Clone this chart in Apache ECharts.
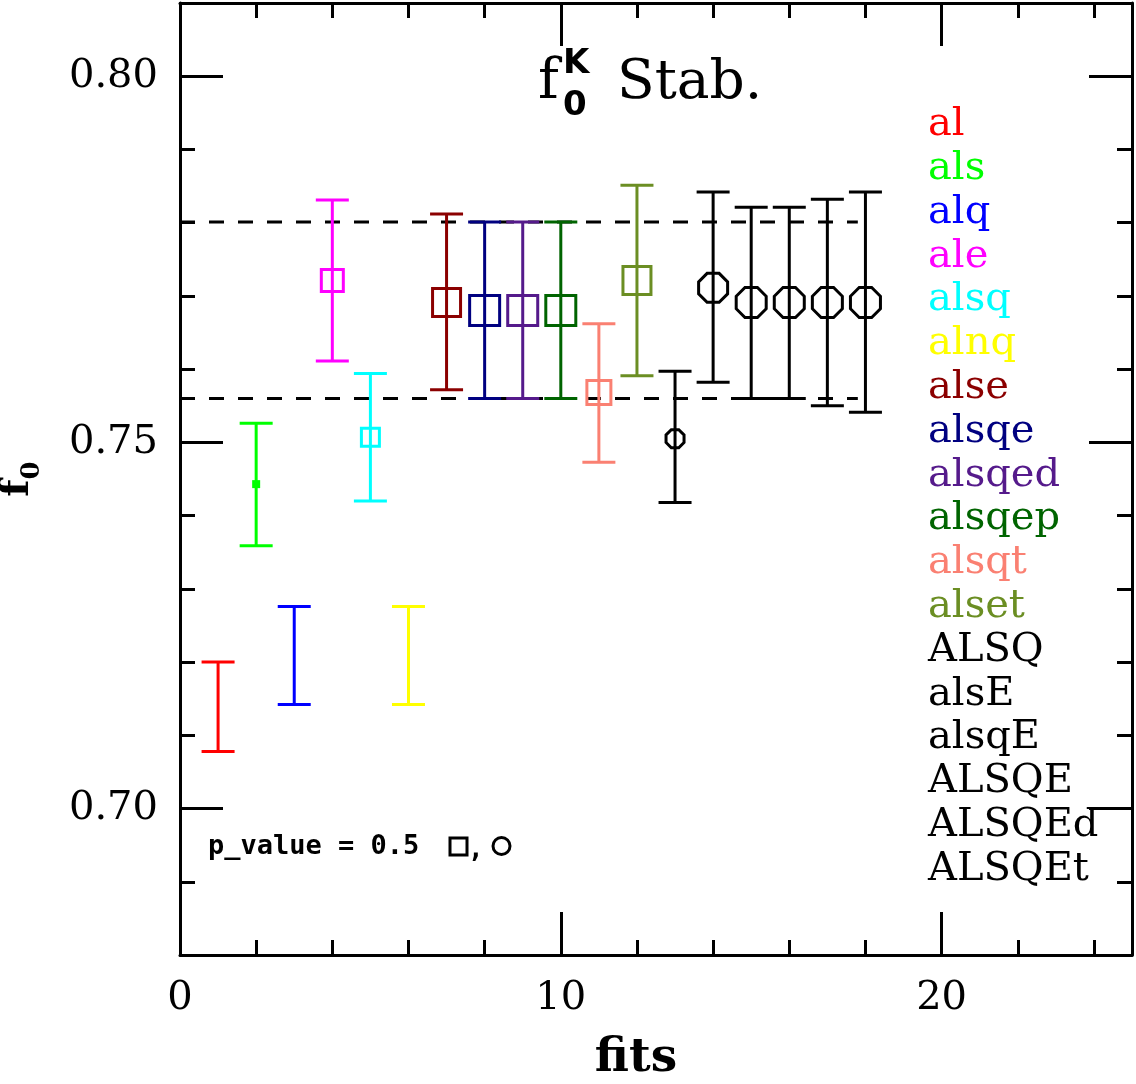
<!DOCTYPE html>
<html>
<head>
<meta charset="utf-8">
<script src="https://cdn.jsdelivr.net/npm/echarts@6/dist/echarts.min.js"></script>
<style>html,body{margin:0;padding:0;background:#fff}#c{width:1136px;height:1084px}</style>
</head>
<body>
<div id="c"></div>
<script>
// ---- data ----
const fitIndex = [1, 2, 3, 4, 5, 6, 7, 8, 9, 10, 11, 12, 13, 14, 15, 16, 17, 18];
const fitNames = ['al', 'als', 'alq', 'ale', 'alsq', 'alnq', 'alse', 'alsqe', 'alsqed', 'alsqep',
  'alsqt', 'alset', 'ALSQ', 'alsE', 'alsqE', 'ALSQE', 'ALSQEd', 'ALSQEt'];
const f0Central = [0.7139, 0.7443, 0.7209, 0.7721, 0.7507, 0.7209, 0.7691, 0.7680, 0.7680, 0.7680,
  0.7568, 0.7721, 0.7505, 0.7711, 0.7691, 0.7691, 0.7691, 0.7691];
const f0Low = [0.7078, 0.7359, 0.7142, 0.7611, 0.7420, 0.7142, 0.7572, 0.7560, 0.7560, 0.7560,
  0.7473, 0.7591, 0.7418, 0.7582, 0.7560, 0.7560, 0.7550, 0.7541];
const f0High = [0.7200, 0.7526, 0.7276, 0.7831, 0.7594, 0.7276, 0.7812, 0.7801, 0.7801, 0.7801,
  0.7662, 0.7851, 0.7597, 0.7842, 0.7821, 0.7821, 0.7832, 0.7842];
const bandLow = 0.7560;
const bandHigh = 0.7801;
const bandX = [0, 17.8];
const xTickValues = [0, 10, 20];
const yTickValues = [0.70, 0.75, 0.80];
const pValueNote = 'p_value = 0.5';

// ---- styles ----
const colors = ['#ff0000', '#00ff00', '#0000ff', '#ff00ff', '#00ffff', '#ffff00', '#8b0000', '#000080',
  '#551a8b', '#006400', '#fa8072', '#6b8e23', '#000000', '#000000', '#000000', '#000000', '#000000', '#000000'];
const markerKind = ['none', 'fill', 'none', 'sq', 'sq', 'none', 'sq', 'sq', 'sq', 'sq', 'sq', 'sq',
  'oct', 'oct', 'oct', 'oct', 'oct', 'oct'];
const markerPx = [0, 8, 0, 22, 18, 0, 28, 30, 30, 30, 24, 28, 18, 29, 30, 30, 30, 30];

const SERIF = '"DejaVu Serif", serif';

function octagon(cx, cy, size) {
  const R = (size / 2) / Math.cos(Math.PI / 8);
  const pts = [];
  for (let k = 0; k < 8; k++) {
    const a = Math.PI / 8 + k * Math.PI / 4;
    pts.push([cx + R * Math.cos(a), cy + R * Math.sin(a)]);
  }
  return pts;
}

function makeRender(i) {
  return function (params, api) {
    const x = api.value(0);
    const pC = api.coord([x, api.value(1)]);
    const pLo = api.coord([x, api.value(2)]);
    const pHi = api.coord([x, api.value(3)]);
    const color = colors[i];
    const half = 16.5;
    const st = { stroke: color, lineWidth: 3, fill: null };
    const children = [
      { type: 'line', shape: { x1: pLo[0], y1: pLo[1], x2: pHi[0], y2: pHi[1] }, style: st },
      { type: 'line', shape: { x1: pLo[0] - half, y1: pLo[1], x2: pLo[0] + half, y2: pLo[1] }, style: st },
      { type: 'line', shape: { x1: pHi[0] - half, y1: pHi[1], x2: pHi[0] + half, y2: pHi[1] }, style: st }
    ];
    const s = markerPx[i];
    if (markerKind[i] === 'sq') {
      children.push({ type: 'rect', shape: { x: pC[0] - s / 2, y: pC[1] - s / 2, width: s, height: s }, style: st });
    } else if (markerKind[i] === 'oct') {
      children.push({ type: 'polygon', shape: { points: octagon(pC[0], pC[1], s) }, style: st });
    } else if (markerKind[i] === 'fill') {
      children.push({ type: 'rect', shape: { x: pC[0] - s / 2, y: pC[1] - s / 2, width: s, height: s }, style: { fill: color } });
    }
    return { type: 'group', children };
  };
}

const tickStyle = { color: '#000', width: 3 };
const axisLineStyle = { show: true, onZero: false, lineStyle: { color: '#000', width: 3 } };

function xMajor(pos, showLabel) {
  return {
    type: 'value', position: pos, min: 0, max: 25, gridIndex: 0,
    axisLine: axisLineStyle,
    axisTick: { show: true, inside: true, length: 43, lineStyle: tickStyle, customValues: xTickValues },
    axisLabel: { show: showLabel, customValues: xTickValues, margin: 24, fontFamily: SERIF, fontSize: 40, color: '#000' },
    splitLine: { show: false }
  };
}
function xMinor(pos) {
  return {
    type: 'value', position: pos, min: 0, max: 25, interval: 2, gridIndex: 0,
    axisLine: { show: false, onZero: false },
    axisTick: { show: true, inside: true, length: 15, lineStyle: tickStyle },
    axisLabel: { show: false }, splitLine: { show: false }
  };
}
function yMajor(pos, showLabel) {
  return {
    type: 'value', position: pos, min: 0.68, max: 0.81, gridIndex: 0,
    axisLine: axisLineStyle,
    axisTick: { show: true, inside: true, length: 43, lineStyle: tickStyle, customValues: yTickValues },
    axisLabel: { show: showLabel, customValues: yTickValues, margin: 22, fontFamily: SERIF, fontSize: 40, color: '#000',
      formatter: v => Number(v).toFixed(2) },
    splitLine: { show: false }
  };
}
function yMinor(pos) {
  return {
    type: 'value', position: pos, min: 0.68, max: 0.81, interval: 0.01, gridIndex: 0,
    axisLine: { show: false, onZero: false },
    axisTick: { show: true, inside: true, length: 15, lineStyle: tickStyle },
    axisLabel: { show: false }, splitLine: { show: false }
  };
}

const xBottom = xMajor('bottom', true);
xBottom.name = 'fits';
xBottom.nameLocation = 'middle';
xBottom.nameGap = 80;
xBottom.nameTextStyle = { fontFamily: SERIF, fontWeight: 'bold', fontSize: 47, color: '#000', padding: [0, 40, 0, 0] };

const yLeft = yMajor('left', true);
yLeft.name = '{f|f}{s|0}';
yLeft.nameLocation = 'middle';
yLeft.nameRotate = 90;
yLeft.nameGap = 135;
yLeft.nameTextStyle = {
  color: '#000',
  rich: {
    f: { fontFamily: SERIF, fontWeight: 'bold', fontSize: 40, color: '#000' },
    s: { fontFamily: SERIF, fontWeight: 'bold', fontSize: 26, color: '#000', padding: [28, 0, 0, 0] }
  }
};

const series = [
  { type: 'line', name: 'bandHigh', data: [[bandX[0], bandHigh], [bandX[1], bandHigh]], symbol: 'none', silent: true,
    lineStyle: { type: [15, 14], width: 3, color: '#000' }, z: 1, xAxisIndex: 0, yAxisIndex: 0 },
  { type: 'line', name: 'bandLow', data: [[bandX[0], bandLow], [bandX[1], bandLow]], symbol: 'none', silent: true,
    lineStyle: { type: [15, 14], width: 3, color: '#000' }, z: 1, xAxisIndex: 0, yAxisIndex: 0 }
];
fitNames.forEach((name, i) => {
  series.push({
    type: 'custom', name, xAxisIndex: 0, yAxisIndex: 0, z: 3,
    itemStyle: { color: colors[i] },
    data: [[fitIndex[i], f0Central[i], f0Low[i], f0High[i]]],
    renderItem: makeRender(i)
  });
});

const option = {
  animation: false,
  backgroundColor: '#fff',
  grid: { left: 180, right: 4, top: 3, bottom: 129, containLabel: false, outerBoundsMode: 'none' },
  xAxis: [xBottom, xMinor('bottom'), xMajor('top', false), xMinor('top')],
  yAxis: [yLeft, yMinor('left'), yMajor('right', false), yMinor('right')],
  legend: {
    orient: 'vertical', left: 923, top: 103, padding: 0, itemGap: 0,
    itemWidth: 0, itemHeight: 0, icon: 'rect', selectedMode: false,
    textStyle: { fontFamily: SERIF, fontSize: 40, lineHeight: 43.8 },
    data: fitNames.map((n, i) => ({ name: n, textStyle: { color: colors[i] } }))
  },
  graphic: [
    { type: 'text', x: 538, y: 83, style: { text: 'f', font: '56px ' + SERIF, fill: '#000', textVerticalAlign: 'middle', verticalAlign: 'middle' } },
    { type: 'text', x: 563, y: 64, style: { text: 'K', font: 'bold 34px "DejaVu Sans"', fill: '#000', textVerticalAlign: 'middle', verticalAlign: 'middle' } },
    { type: 'text', x: 563, y: 106, style: { text: '0', font: 'bold 34px "DejaVu Sans"', fill: '#000', textVerticalAlign: 'middle', verticalAlign: 'middle' } },
    { type: 'text', x: 617, y: 84, style: { text: 'Stab.', font: '55px ' + SERIF, fill: '#000', textVerticalAlign: 'middle', verticalAlign: 'middle' } },
    { type: 'text', x: 208, y: 847, style: { text: pValueNote, font: 'bold 27px "DejaVu Sans Mono"', fill: '#000', textVerticalAlign: 'middle', verticalAlign: 'middle' } },
    { type: 'rect', shape: { x: 450, y: 838, width: 17, height: 17 }, style: { stroke: '#000', lineWidth: 3, fill: null } },
    { type: 'text', x: 468, y: 850, style: { text: ',', font: 'bold 26px "DejaVu Sans Mono"', fill: '#000', textVerticalAlign: 'middle', verticalAlign: 'middle' } },
    { type: 'circle', shape: { cx: 501.5, cy: 846, r: 8.5 }, style: { stroke: '#000', lineWidth: 3, fill: null } }
  ],
  series
};

const chart = echarts.init(document.getElementById('c'), null, { renderer: 'canvas' });
chart.setOption(option);
</script>
</body>
</html>
